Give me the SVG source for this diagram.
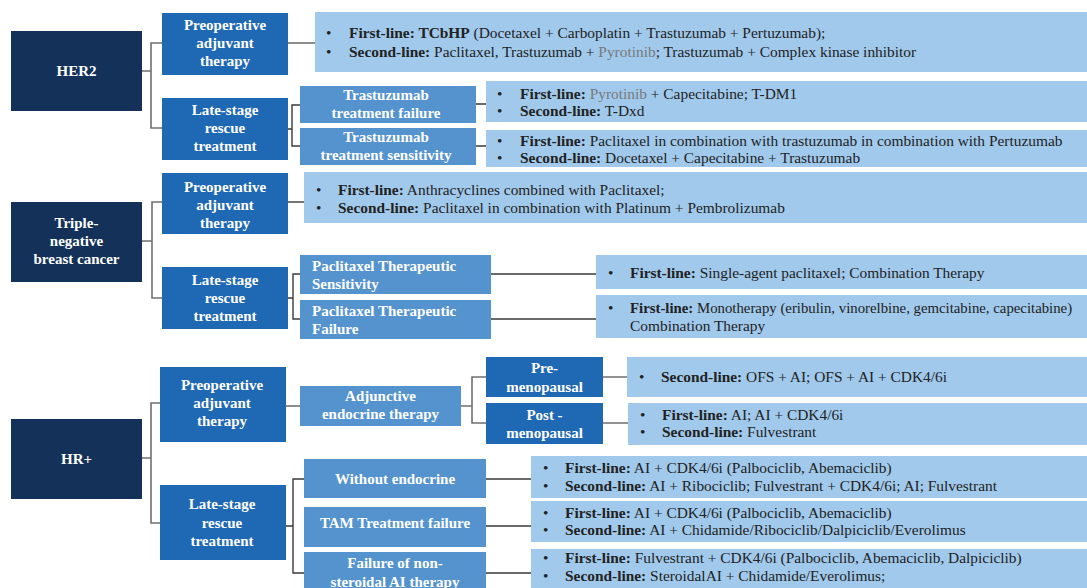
<svg xmlns="http://www.w3.org/2000/svg" width="1087" height="588" viewBox="0 0 1087 588">
<style>
.root{fill:#143259}
.l1{fill:#1f68b3}
.l2{fill:#5593cf}
.tb{fill:#a0c9ec}
.nt{font-family:"Liberation Serif",serif;font-weight:bold;font-size:15px;fill:#ffffff;text-anchor:middle}
.ntl{font-family:"Liberation Serif",serif;font-weight:bold;font-size:15px;fill:#ffffff}
.tt{font-family:"Liberation Serif",serif;font-size:15.4px;fill:#222222}
.tt.fit{font-size:14.8px}
.b{font-weight:bold}
.g{fill:#7a7a7a}
.c1{fill:none;stroke:#707070;stroke-width:1.6}
.c2{fill:none;stroke:#3a3a3a;stroke-width:1.4}
</style>
<rect width="1087" height="588" fill="#ffffff"/>
<g id="connectors">
<path class="c1" d="M142 71 H151 M162 43 H151 V128 H162"/>
<path class="c1" d="M288 43 H315"/>
<path class="c2" d="M288 129 H292 M300 105 H292 V146 H300"/>
<path class="c2" d="M476 104 H486 M476 146 H486"/>
<path class="c1" d="M142 241 H152 M162 202 H152 V298 H162"/>
<path class="c2" d="M288 202 H304"/>
<path class="c2" d="M288 298 H293 M300 274 H293 V319 H300"/>
<path class="c2" d="M491 274 H596 M491 319 H596"/>
<path class="c1" d="M142 458 H151 M160 403 H151 V523 H160"/>
<path class="c1" d="M286 406 H300"/>
<path class="c1" d="M461 406 H472 M486 377 H472 V423 H486"/>
<path class="c1" d="M603 377 H627 M603 423 H628"/>
<path class="c2" d="M286 526 H293 M304 479 H293 V573 H304"/>
<path class="c2" d="M486 479 H531 M486 526 H531 M486 573 H531"/>
</g>
<g id="her2">
<rect class="root" x="11" y="31" width="131" height="80"/>
<text class="nt" x="76.5" y="76">HER2</text>
</g>
<g id="her2-preop">
<rect class="l1" x="162" y="13" width="126" height="62"/>
<text class="nt" x="225" y="30">Preoperative</text>
<text class="nt" x="225" y="48">adjuvant</text>
<text class="nt" x="225" y="66">therapy</text>
</g>
<g id="her2-preop-text">
<rect class="tb" x="315" y="12" width="772" height="60"/>
<text class="tt" x="326" y="38">•</text>
<text class="tt" x="349" y="38"><tspan class="b">First-line: TCbHP</tspan> (Docetaxel + Carboplatin + Trastuzumab + Pertuzumab);</text>
<text class="tt" x="326" y="57">•</text>
<text class="tt" x="349" y="57"><tspan class="b">Second-line:</tspan> Paclitaxel, Trastuzumab + <tspan class="g">Pyrotinib</tspan>; Trastuzumab + Complex kinase inhibitor</text>
</g>
<g id="her2-late">
<rect class="l1" x="162" y="98" width="126" height="62"/>
<text class="nt" x="225" y="115">Late-stage</text>
<text class="nt" x="225" y="133">rescue</text>
<text class="nt" x="225" y="151">treatment</text>
</g>
<g id="tras-fail">
<rect class="l2" x="300" y="86" width="176" height="37"/>
<text class="nt" x="386" y="100">Trastuzumab</text>
<text class="nt" x="386" y="118">treatment failure</text>
</g>
<g id="tras-fail-text">
<rect class="tb" x="486" y="81" width="601" height="41"/>
<text class="tt" x="497" y="99">•</text>
<text class="tt" x="520" y="99"><tspan class="b">First-line:</tspan> <tspan class="g">Pyrotinib</tspan> + Capecitabine; T-DM1</text>
<text class="tt" x="497" y="116">•</text>
<text class="tt" x="520" y="116"><tspan class="b">Second-line:</tspan> T-Dxd</text>
</g>
<g id="tras-sens">
<rect class="l2" x="300" y="128" width="176" height="37"/>
<text class="nt" x="386" y="142">Trastuzumab</text>
<text class="nt" x="386" y="159.5">treatment sensitivity</text>
</g>
<g id="tras-sens-text">
<rect class="tb" x="486" y="130" width="601" height="37"/>
<text class="tt" x="497" y="146">•</text>
<text class="tt" x="520" y="146"><tspan class="b">First-line:</tspan> Paclitaxel in combination with trastuzumab in combination with Pertuzumab</text>
<text class="tt" x="497" y="163">•</text>
<text class="tt" x="520" y="163"><tspan class="b">Second-line:</tspan> Docetaxel + Capecitabine + Trastuzumab</text>
</g>
<g id="tnbc">
<rect class="root" x="11" y="202" width="131" height="80"/>
<text class="nt" x="76.5" y="228">Triple-</text>
<text class="nt" x="76.5" y="246">negative</text>
<text class="nt" x="76.5" y="264">breast cancer</text>
</g>
<g id="tnbc-preop">
<rect class="l1" x="162" y="173" width="126" height="61"/>
<text class="nt" x="225" y="192">Preoperative</text>
<text class="nt" x="225" y="210">adjuvant</text>
<text class="nt" x="225" y="228">therapy</text>
</g>
<g id="tnbc-preop-text">
<rect class="tb" x="304" y="172" width="783" height="51"/>
<text class="tt" x="316" y="195">•</text>
<text class="tt" x="338" y="195"><tspan class="b">First-line:</tspan> Anthracyclines combined with Paclitaxel;</text>
<text class="tt" x="316" y="213">•</text>
<text class="tt" x="338" y="213"><tspan class="b">Second-line:</tspan> Paclitaxel in combination with Platinum + Pembrolizumab</text>
</g>
<g id="tnbc-late">
<rect class="l1" x="162" y="267" width="126" height="62"/>
<text class="nt" x="225" y="285">Late-stage</text>
<text class="nt" x="225" y="303">rescue</text>
<text class="nt" x="225" y="321">treatment</text>
</g>
<g id="pac-sens">
<rect class="l2" x="300" y="255" width="191" height="39"/>
<text class="ntl" x="312" y="271">Paclitaxel Therapeutic</text>
<text class="ntl" x="312" y="289">Sensitivity</text>
</g>
<g id="pac-sens-text">
<rect class="tb" x="596" y="255" width="491" height="34"/>
<text class="tt" x="608" y="278">•</text>
<text class="tt" x="630" y="278"><tspan class="b">First-line:</tspan> Single-agent paclitaxel; Combination Therapy</text>
</g>
<g id="pac-fail">
<rect class="l2" x="300" y="300" width="191" height="39"/>
<text class="ntl" x="312" y="316">Paclitaxel Therapeutic</text>
<text class="ntl" x="312" y="334">Failure</text>
</g>
<g id="pac-fail-text">
<rect class="tb" x="596" y="295" width="491" height="43"/>
<text class="tt" x="608" y="313">•</text>
<text class="tt fit" x="630" y="313"><tspan class="b">First-line:</tspan> Monotherapy (eribulin, vinorelbine, gemcitabine, capecitabine)</text>
<text class="tt" x="630" y="331">Combination Therapy</text>
</g>
<g id="hr">
<rect class="root" x="11" y="419" width="131" height="80"/>
<text class="nt" x="76.5" y="464">HR+</text>
</g>
<g id="hr-preop">
<rect class="l1" x="160" y="367" width="126" height="75"/>
<text class="nt" x="222" y="390">Preoperative</text>
<text class="nt" x="222" y="408">adjuvant</text>
<text class="nt" x="222" y="426">therapy</text>
</g>
<g id="adjunctive">
<rect class="l2" x="300" y="386" width="161" height="40"/>
<text class="nt" x="380.5" y="401">Adjunctive</text>
<text class="nt" x="380.5" y="419">endocrine therapy</text>
</g>
<g id="pre-meno">
<rect class="l1" x="486" y="357" width="117" height="40"/>
<text class="nt" x="544.5" y="373">Pre-</text>
<text class="nt" x="544.5" y="392">menopausal</text>
</g>
<g id="pre-meno-text">
<rect class="tb" x="627" y="357" width="460" height="40"/>
<text class="tt" x="639" y="382">•</text>
<text class="tt" x="661" y="382"><tspan class="b">Second-line:</tspan> OFS + AI; OFS + AI + CDK4/6i</text>
</g>
<g id="post-meno">
<rect class="l1" x="486" y="403" width="117" height="41"/>
<text class="nt" x="544.5" y="420">Post -</text>
<text class="nt" x="544.5" y="438">menopausal</text>
</g>
<g id="post-meno-text">
<rect class="tb" x="628" y="403" width="459" height="42"/>
<text class="tt" x="640" y="420">•</text>
<text class="tt" x="662" y="420"><tspan class="b">First-line:</tspan> AI; AI + CDK4/6i</text>
<text class="tt" x="640" y="437">•</text>
<text class="tt" x="662" y="437"><tspan class="b">Second-line:</tspan> Fulvestrant</text>
</g>
<g id="hr-late">
<rect class="l1" x="160" y="485" width="126" height="75"/>
<text class="nt" x="222" y="509">Late-stage</text>
<text class="nt" x="222" y="528">rescue</text>
<text class="nt" x="222" y="546">treatment</text>
</g>
<g id="without-endo">
<rect class="l2" x="304" y="459" width="182" height="39"/>
<text class="nt" x="395" y="484">Without endocrine</text>
</g>
<g id="without-endo-text">
<rect class="tb" x="531" y="456" width="556" height="42"/>
<text class="tt" x="543" y="473">•</text>
<text class="tt" x="565" y="473"><tspan class="b">First-line:</tspan> AI + CDK4/6i (Palbociclib, Abemaciclib)</text>
<text class="tt" x="543" y="491">•</text>
<text class="tt" x="565" y="491"><tspan class="b">Second-line:</tspan> AI + Ribociclib; Fulvestrant + CDK4/6i; AI; Fulvestrant</text>
</g>
<g id="tam-fail">
<rect class="l2" x="304" y="507" width="182" height="40"/>
<text class="nt" x="395" y="528">TAM Treatment failure</text>
</g>
<g id="tam-fail-text">
<rect class="tb" x="531" y="501" width="556" height="41"/>
<text class="tt" x="543" y="518">•</text>
<text class="tt" x="565" y="518"><tspan class="b">First-line:</tspan> AI + CDK4/6i (Palbociclib, Abemaciclib)</text>
<text class="tt" x="543" y="535">•</text>
<text class="tt" x="565" y="535"><tspan class="b">Second-line:</tspan> AI + Chidamide/Ribociclib/Dalpiciclib/Everolimus</text>
</g>
<g id="ai-fail">
<rect class="l2" x="304" y="552" width="182" height="40"/>
<text class="nt" x="395" y="568">Failure of non-</text>
<text class="nt" x="395" y="587">steroidal AI therapy</text>
</g>
<g id="ai-fail-text">
<rect class="tb" x="531" y="549" width="556" height="41"/>
<text class="tt" x="543" y="563">•</text>
<text class="tt" x="565" y="563"><tspan class="b">First-line:</tspan> Fulvestrant + CDK4/6i (Palbociclib, Abemaciclib, Dalpiciclib)</text>
<text class="tt" x="543" y="581">•</text>
<text class="tt" x="565" y="581"><tspan class="b">Second-line:</tspan> SteroidalAI + Chidamide/Everolimus;</text>
</g>
</svg>
